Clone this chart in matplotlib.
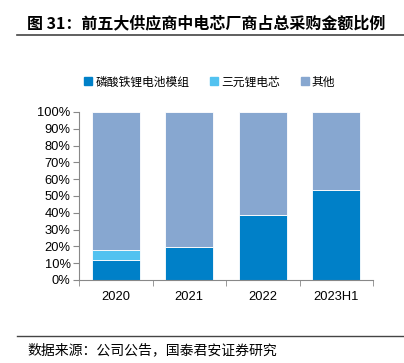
import matplotlib
matplotlib.use("Agg")
import matplotlib.pyplot as plt
from matplotlib.lines import Line2D
import numpy as np

plt.rcParams['font.family'] = ['Noto Sans CJK SC', 'DejaVu Sans']

categories = ["2020", "2021", "2022", "2023H1"]
lfp = [12.0, 19.5, 38.5, 53.5]
ncm = [6.0, 0.0, 0.0, 0.0]
other = [82.0, 80.5, 61.5, 46.5]
series_names = ["磷酸铁锂电池模组", "三元锂电芯", "其他"]
colors = ["#0080C8", "#52C2F0", "#87A7D0"]
yticks = [0, 10, 20, 30, 40, 50, 60, 70, 80, 90, 100]

W, H = 404, 363
fig = plt.figure(figsize=(W/100, H/100), dpi=100)

ax = fig.add_axes([79/W, 1-280/H, (373-79)/W, (280-112)/H])
x = np.arange(len(categories))
bottom = np.zeros(len(categories))
for vals, c in zip([lfp, ncm, other], colors):
    ax.bar(x, vals, bottom=bottom, width=0.65, color=c, edgecolor="#ffffff", linewidth=0.6)
    bottom += np.array(vals)

ax.set_xlim(-0.5, len(categories)-0.5)
ax.set_ylim(0, 100)
ax.set_yticks(yticks)
ax.set_yticklabels([f"{v}%" for v in yticks], fontsize=9.3, family=['Liberation Sans', 'DejaVu Sans'])
ax.set_xticks(x)
ax.set_xticklabels(categories, fontsize=9.3, family=['Liberation Sans', 'DejaVu Sans'])
ax.set_xticks(np.arange(len(categories)+1)-0.5, minor=True)
ax.tick_params(axis='x', which='major', length=0, pad=8)
ax.tick_params(axis='x', which='minor', length=4, color="#888888", direction='out')
ax.tick_params(axis='y', length=4, color="#888888", direction='out', pad=2)
for s in ["top", "right"]:
    ax.spines[s].set_visible(False)
for s in ["left", "bottom"]:
    ax.spines[s].set_color("#888888")
    ax.spines[s].set_linewidth(0.8)

handles = [Line2D([], [], marker='s', linestyle='none', markersize=6, color=c) for c in colors]
fig.legend(handles, series_names, loc='center', bbox_to_anchor=(210/W, 1-82/H), ncol=3,
           frameon=False, fontsize=8.5, handlelength=0.6, handletextpad=0.3, columnspacing=1.8)

fig.text(27/W, 1-23/H, "图 31：前五大供应商中电芯厂商占总采购金额比例", fontsize=11.5, fontweight='bold',
         va='center', ha='left')
fig.add_artist(Line2D([17/W, 1], [1-35/H, 1-35/H], color="#444444", linewidth=1.2))
fig.add_artist(Line2D([17/W, 1], [1-336/H, 1-336/H], color="#444444", linewidth=1.0))
fig.text(27/W, 1-350/H, "数据来源：公司公告，国泰君安证券研究", fontsize=10, va='center', ha='left')

fig.savefig("out.png", dpi=100)
